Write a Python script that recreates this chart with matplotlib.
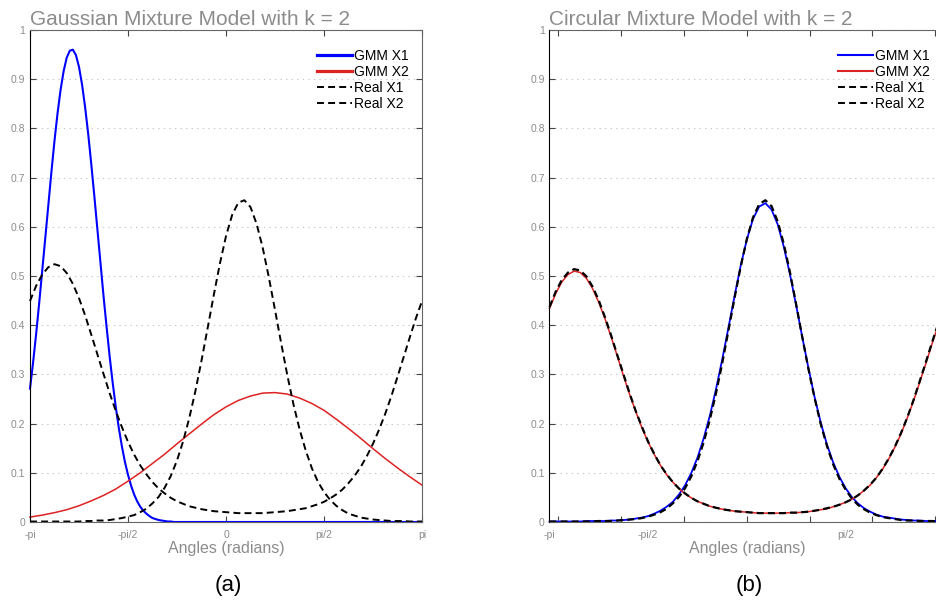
import numpy as np
import matplotlib
matplotlib.use("Agg")
import matplotlib.pyplot as plt

plt.rcParams['font.family'] = ['Liberation Sans', 'DejaVu Sans']
plt.rcParams['lines.scale_dashes'] = False

# ---- data (in thousandths) ----
angles_65 = np.linspace(-np.pi, np.pi, 65)
angles_129 = np.linspace(-np.pi, np.pi, 129)
angles_33 = np.linspace(-np.pi, np.pi, 33)

gmm1_a = np.array([271, 324, 382, 445, 511, 578, 646, 712, 775, 831, 879, 917, 944, 958, 960, 949,
                   925, 889, 843, 789, 728, 663, 595, 527, 460, 397, 337, 283, 234, 191, 154, 122,
                   96, 74, 56, 42, 31, 23, 17, 12, 8, 6, 4, 3, 2, 1, 1,
                   0, 0, 0, 0, 0, 0, 0, 0, 0, 0, 0, 0, 0, 0, 0, 0, 0, 0, 0, 0, 0, 0, 0, 0, 0, 0,
                   0, 0, 0, 0, 0, 0, 0, 0, 0, 0, 0, 0, 0, 0, 0, 0, 0, 0, 0, 0, 0, 0, 0, 0, 0, 0,
                   0, 0, 0, 0, 0, 0, 0, 0, 0, 0, 0, 0, 0, 0, 0, 0, 0, 0, 0, 0, 0, 0, 0, 0, 0, 0,
                   0, 0, 0, 0]) / 1000
gmm2_a = np.array([10, 14, 19, 25, 33, 43, 54, 67, 83, 100, 119, 138, 159, 179, 199, 218, 234,
                   247, 256, 262, 263, 260, 252, 241, 227, 209, 190, 170, 149, 129, 110, 92, 75]) / 1000
real1_a = np.array([449, 480, 503, 518, 524, 520, 506, 484, 455, 420, 381, 341, 301, 262, 226, 193,
                    163, 137, 115, 97, 81, 68, 58, 49, 42, 37, 32, 29, 26, 24, 22, 21, 20, 19, 18,
                    18, 18, 18, 18, 19, 20, 21, 22, 24, 26, 28, 32, 36, 41, 48, 56, 66, 79, 94, 112,
                    134, 159, 188, 220, 256, 295, 335, 375, 414, 449]) / 1000
real2_a = np.array([1, 1, 1, 1, 1, 1, 1, 1, 1, 2, 2, 3, 3, 4, 6, 8, 11, 14, 20, 27, 38, 51, 70, 94,
                    125, 164, 211, 266, 328, 394, 461, 525, 581, 624, 649, 654, 640, 606, 557, 497,
                    431, 364, 299, 240, 189, 146, 110, 82, 61, 45, 33, 24, 17, 13, 9, 7, 5, 4, 3, 2,
                    2, 2, 1, 1, 1]) / 1000

gmm1_b = np.array([1, 1, 1, 1, 1, 1, 2, 2, 2, 2, 3, 3, 4, 5, 7, 9, 12, 17, 23, 31, 41, 56, 75, 100,
                   131, 170, 216, 270, 330, 394, 459, 521, 574, 616, 641, 648, 635, 605, 559, 503,
                   440, 375, 312, 253, 201, 157, 121, 92, 69, 51, 38, 28, 21, 15, 11, 9, 7, 5, 4, 3,
                   3, 2, 2, 2, 1]) / 1000
gmm2_b = np.array([434, 464, 488, 503, 510, 507, 495, 474, 446, 413, 376, 337, 297, 259, 224, 191,
                   162, 137, 115, 96, 81, 68, 57, 49, 42, 37, 32, 29, 26, 24, 22, 21, 20, 19, 18, 18,
                   18, 18, 18, 19, 19, 20, 21, 23, 25, 27, 31, 35, 40, 46, 54, 64, 75, 90, 107, 128,
                   152, 179, 211, 245, 283, 321, 361, 399, 434]) / 1000
real1_b = np.array([437, 468, 492, 507, 514, 511, 499, 478, 450, 416, 379, 339, 300, 261, 225, 193,
                    163, 138, 115, 97, 81, 68, 58, 49, 42, 37, 32, 29, 26, 24, 22, 21, 20, 19, 18, 18,
                    18, 18, 18, 19, 19, 20, 21, 23, 25, 28, 31, 35, 40, 46, 54, 64, 76, 90, 108, 129,
                    153, 181, 212, 247, 285, 324, 364, 402, 437]) / 1000
real2_b = np.array([1, 1, 1, 1, 1, 1, 1, 1, 2, 2, 2, 3, 4, 5, 6, 8, 11, 15, 20, 27, 38, 51, 69, 93,
                    124, 162, 208, 262, 322, 388, 455, 519, 575, 619, 646, 654, 642, 611, 565, 507,
                    442, 375, 310, 251, 198, 154, 117, 88, 66, 48, 35, 26, 19, 14, 10, 8, 6, 4, 3, 3,
                    2, 2, 2, 1, 1]) / 1000

series_labels = ['GMM X1', 'GMM X2', 'Real X1', 'Real X2']
pi_ticks = [-np.pi, -np.pi/2, 0, np.pi/2, np.pi]
pi_labels_a = ['-pi', '-pi/2', '0', 'pi/2', 'pi']
pi_labels_b = ['-pi', '-pi/2', '0', 'pi/2', '']
y_ticks = [0, 0.1, 0.2, 0.3, 0.4, 0.5, 0.6, 0.7, 0.8, 0.9, 1]
y_labels = ['0', '0.1', '0.2', '0.3', '0.4', '0.5', '0.6', '0.7', '0.8', '0.9', '1']
int_ticks_b = [-3, -2, -1, 0, 1, 2, 3]

GRAY = '#8c8c8c'
fig = plt.figure(figsize=(9.37, 6.01), dpi=100)
axA = fig.add_axes([30/937, 79/601, 392/937, 492/601])
axB = fig.add_axes([549.5/937, 79/601, 394.7/937, 492/601])

def style(ax):
    ax.set_xlim(-np.pi, np.pi)
    ax.set_ylim(0, 1)
    ax.set_yticks(y_ticks)
    ax.set_yticklabels(y_labels)
    ax.yaxis.grid(True, linestyle=(0, (1, 3)), color='#c8c8c8', lw=0.8)
    ax.set_axisbelow(True)
    ax.tick_params(which='both', direction='in', top=True, right=True, length=4,
                   color='#444444', labelcolor=GRAY, labelsize=7.5)
    ax.tick_params(axis='y', pad=3.5)
    ax.tick_params(axis='x', which='both', pad=5.5)
    for s in ['top', 'right', 'bottom']:
        ax.spines[s].set_color('#666666')
    ax.spines['left'].set_color('black')

style(axA)
style(axB)
axA.set_xticks(pi_ticks)
axA.set_xticklabels(pi_labels_a)
axB.set_xticks(int_ticks_b)
axB.set_xticklabels([])
axB.set_xticks(pi_ticks, minor=True)
axB.set_xticklabels(pi_labels_b, minor=True)
axB.tick_params(axis='x', which='minor', length=0)

dash = (0, (5, 3))
axA.plot(angles_129, gmm1_a, color='#0000ff', lw=1.5, label=series_labels[0], clip_on=False)
axA.plot(angles_33, gmm2_a, color='#dd2222', lw=1.1, label=series_labels[1], clip_on=False)
axA.plot(angles_65, real1_a, color='black', lw=1.4, ls=dash, label=series_labels[2], clip_on=False)
axA.plot(angles_65, real2_a, color='black', lw=1.4, ls=dash, label=series_labels[3], clip_on=False)

axB.plot(angles_65, gmm1_b, color='#0000ff', lw=1.3, label=series_labels[0], clip_on=False)
axB.plot(angles_65, gmm2_b, color='#dd2222', lw=1.1, label=series_labels[1], clip_on=False)
axB.plot(angles_65, real1_b, color='black', lw=1.6, ls=dash, label=series_labels[2], clip_on=False)
axB.plot(angles_65, real2_b, color='black', lw=1.6, ls=dash, label=series_labels[3], clip_on=False)

for ax, lws in [(axA, [2.3, 2.3, 1.4, 1.4]), (axB, [1.5, 1.5, 1.4, 1.4])]:
    leg = ax.legend(loc='upper left', bbox_to_anchor=(0.732, 0.962), frameon=False,
                    fontsize=10, handlelength=2.5, handletextpad=0.15,
                    labelspacing=0.15, borderpad=0, borderaxespad=0)
    for ln, w in zip(leg.get_lines(), lws):
        ln.set_linewidth(w)

fig.text(30/937, 1-25/601, 'Gaussian Mixture Model with k = 2', ha='left', va='baseline',
         fontsize=15, color=GRAY)
fig.text(549/937, 1-25/601, 'Circular Mixture Model with k = 2', ha='left', va='baseline',
         fontsize=15, color=GRAY)
for cx, lab in [(226, '(a)'), (747, '(b)')]:
    fig.text(cx/937, 1-548/601, 'Angles (radians)', ha='center', va='center',
             fontsize=11.5, color=GRAY)
    fig.text((cx+2)/937, 1-586/601, lab, ha='center', va='center', fontsize=16, color='black')

fig.savefig('out.png', dpi=100)
